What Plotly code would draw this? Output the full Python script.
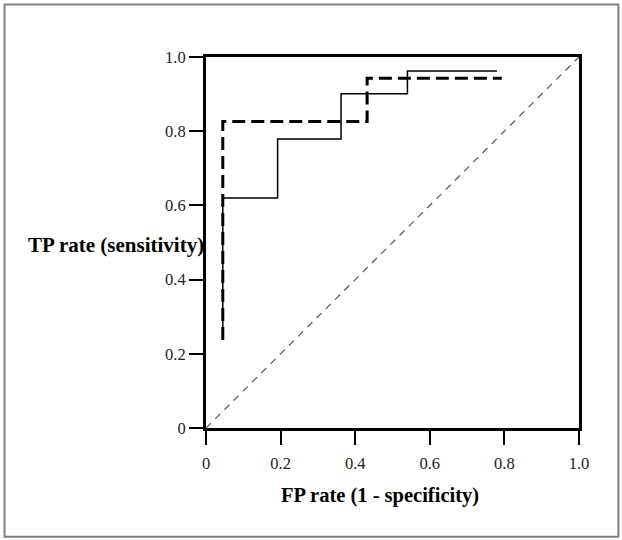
import plotly.graph_objects as go

# ---- data ----
solid_fpr = [0.045, 0.045, 0.192, 0.362, 0.540, 0.780]
solid_tpr = [0.237, 0.620, 0.779, 0.901, 0.962, 0.962]

dashed_fpr = [0.045, 0.045, 0.432, 0.793]
dashed_tpr = [0.237, 0.826, 0.943, 0.943]

ref_fpr = [0.0, 1.0]
ref_tpr = [0.0, 1.0]

tick_vals = [0, 0.2, 0.4, 0.6, 0.8, 1.0]
tick_text = ["0", "0.2", "0.4", "0.6", "0.8", "1.0"]

x_title = "FP rate (1 - specificity)"
y_title = "TP rate (sensitivity)"

SERIF = "Liberation Serif, Times New Roman, serif"

W, H = 622, 540

fig = go.Figure()
fig.add_trace(go.Scatter(x=ref_fpr, y=ref_tpr, mode="lines",
                         line=dict(color="#555555", width=1.2, dash="7px,6px"),
                         showlegend=False, hoverinfo="skip"))
fig.add_trace(go.Scatter(x=solid_fpr, y=solid_tpr, mode="lines", line_shape="hv",
                         line=dict(color="black", width=1.5),
                         showlegend=False))
fig.add_trace(go.Scatter(x=dashed_fpr, y=dashed_tpr, mode="lines", line_shape="hv",
                         line=dict(color="black", width=3, dash="13px,6px"),
                         showlegend=False))

# plot area in page pixels
PL, PR, PT, PB = 205.5, 579.5, 56.5, 428
L, T, R, B = PL, PT, W - PR, H - PB
PW, PH = PR - PL, PB - PT

axis_common = dict(range=[0, 1], tickvals=tick_vals, ticktext=tick_text,
                   showline=True, mirror=True, linecolor="black", linewidth=3,
                   ticks="outside", ticklen=14, tickwidth=1.5, tickcolor="black",
                   showgrid=False, zeroline=False,
                   tickfont=dict(family=SERIF, size=16.5, color="#222222"))

fig.update_xaxes(**axis_common, ticklabelstandoff=4)
fig.update_yaxes(**axis_common, ticklabelstandoff=0)

def px_x(p):
    return (p - PL) / PW

def px_y(p):
    return (PB - p) / PH

fig.add_annotation(text=y_title, xref="paper", yref="paper",
                   x=px_x(205), y=px_y(245), xanchor="right", yanchor="middle",
                   showarrow=False,
                   font=dict(family=SERIF, size=21, color="black", weight="bold"))
fig.add_annotation(text=x_title, xref="paper", yref="paper",
                   x=px_x(380), y=px_y(496), xanchor="center", yanchor="middle",
                   showarrow=False,
                   font=dict(family=SERIF, size=20.5, color="black", weight="bold"))

# outer frame around the figure
fig.add_shape(type="rect", xref="paper", yref="paper",
              x0=px_x(3.5), x1=px_x(619), y0=px_y(537), y1=px_y(4),
              line=dict(color="#808080", width=2), layer="above")

fig.update_layout(width=W, height=H,
                  margin=dict(l=L, r=R, t=T, b=B, pad=0),
                  paper_bgcolor="white", plot_bgcolor="white",
                  showlegend=False)

fig.write_html("out.html", config={"displayModeBar": False},
               post_script="document.body.style.margin='0';document.body.style.overflow='hidden';")
